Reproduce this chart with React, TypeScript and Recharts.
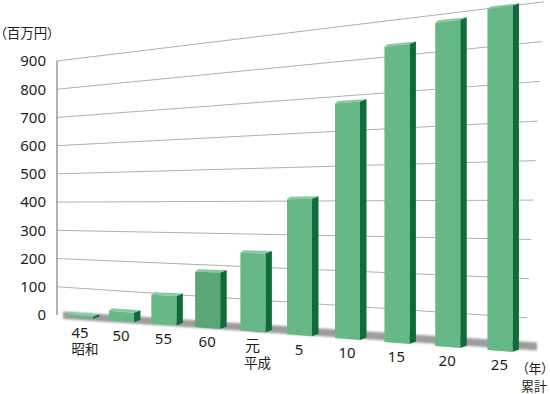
import React from "react";
import { BarChart, Bar, XAxis, YAxis, CartesianGrid } from "recharts";

// 年度ごとの累計額（百万円）
const categories = ["45", "50", "55", "60", "元", "5", "10", "15", "20", "25"];
const eraLabels = ["昭和", "", "", "", "平成", "", "", "", "", ""];
const amounts = [8, 32, 95, 176, 239, 402, 675, 822, 871, 890];
const yTicks = [0, 100, 200, 300, 400, 500, 600, 700, 800, 900];

const data = categories.map((c, i) => ({ name: c, value: amounts[i] }));

const W = 550;
const H = 394;
const PLOT_LEFT = 57;
const PLOT_RIGHT = 537;
const PLOT_TOP = 61;
const PLOT_BOTTOM = 315;
const PLOT_W = PLOT_RIGHT - PLOT_LEFT;
const BAND = PLOT_W / categories.length;
const DARK_INDEX = 3;

const FONT = "'Noto Sans', 'Noto Sans CJK JP', sans-serif";
const TEXT = "#231f20";

// perspective helpers: flat chart coords -> slanted 3D-ish screen coords
const depthT = (sx: number) => (sx - PLOT_LEFT) / PLOT_W;
const growth = (sx: number) => 1 + 0.399 * depthT(sx);
const floorY = (sx: number) => 318 + 0.0786 * (sx - 80);
const wallY = (sx: number) => PLOT_BOTTOM + 43 * depthT(sx);
const warpX = (fx: number) => {
  const i = (fx - PLOT_LEFT - BAND / 2) / BAND;
  return 80 + 41 * i + 0.7 * i * (i - 1);
};

const Box3D = (props: any) => {
  const { x, width, height, index } = props;
  const c = warpX(x + width / 2);
  const x1 = c - width / 2;
  const x2 = c + width / 2;
  const b1 = floorY(x1);
  const b2 = floorY(x2);
  const t1 = b1 - height * growth(x1);
  const t2 = b2 - height * growth(x2);
  const dx = 6.5;
  const dy = -2.5;
  const front = index === DARK_INDEX ? "#5aa676" : "#67b887";
  return (
    <g>
      <polygon
        points={`${x2},${t2} ${x2 + dx},${t2 + dy} ${x2 + dx},${b2 + dy} ${x2},${b2}`}
        fill="#106b3b"
      />
      <polygon
        points={`${x1},${t1} ${x2},${t2} ${x2 + dx},${t2 + dy} ${x1 + 3},${t1 - 2.5}`}
        fill="#86c9a2"
      />
      <polygon
        points={`${x1},${b1} ${x1},${t1} ${x2},${t2} ${x2},${b2}`}
        fill={front}
      />
    </g>
  );
};

const gridLine = (props: any) => {
  const { x1, y1, index } = props;
  const h = PLOT_BOTTOM - y1;
  if (h < 1) {
    // floor shadow along the base
    const xa = x1 + 6;
    const xb = PLOT_RIGHT;
    const top = (sx: number) => floorY(sx) - 5 - 6.5 * depthT(sx);
    const bot = (sx: number) => floorY(sx) + 2.5 - 6 * depthT(sx);
    return (
      <g key={`grid-${index}`}>
        <defs>
          <filter id="floorBlur" x="-5%" y="-50%" width="110%" height="200%">
            <feGaussianBlur stdDeviation="1.2" />
          </filter>
        </defs>
        <polygon
          points={`${xa},${top(xa)} ${xb},${top(xb)} ${xb},${bot(xb)} ${xa},${bot(xa)}`}
          fill="#9d9d9d"
          filter="url(#floorBlur)"
        />
      </g>
    );
  }
  const xEnd = 525 + 0.0744 * h;
  const yEnd = wallY(xEnd) - h * growth(xEnd);
  return (
    <line
      key={`grid-${index}`}
      x1={x1}
      y1={y1}
      x2={xEnd}
      y2={yEnd}
      stroke="#aab3ac"
      strokeWidth={1}
    />
  );
};

const CategoryTick = (props: any) => {
  const { x, payload } = props;
  const sx = warpX(x);
  const base = floorY(sx) + 19.5;
  const i = categories.indexOf(payload.value);
  return (
    <g>
      <text x={sx} y={base} textAnchor="middle" fontSize={15} fill={TEXT} fontFamily={FONT}>
        {payload.value}
      </text>
      {eraLabels[i] && (
        <text x={sx + 5} y={base + 16.5} textAnchor="middle" fontSize={13.5} fill={TEXT} fontFamily={FONT}>
          {eraLabels[i]}
        </text>
      )}
    </g>
  );
};

const labelStyle: React.CSSProperties = {
  position: "absolute",
  fontFamily: FONT,
  fontSize: 13,
  color: TEXT,
  lineHeight: "13px",
  whiteSpace: "nowrap",
  fontFeatureSettings: "'palt'",
};

export default function App() {
  return (
    <div style={{ position: "absolute", left: 0, top: 0, width: W, height: H, background: "#fff", fontFamily: FONT }}>
      <BarChart
        width={W}
        height={H}
        data={data}
        margin={{ top: PLOT_TOP, right: W - PLOT_RIGHT, bottom: H - PLOT_BOTTOM - 30, left: 0 }}
        barSize={25}
      >
        <CartesianGrid vertical={false} horizontal={gridLine} />
        <XAxis
          dataKey="name"
          height={30}
          interval={0}
          axisLine={false}
          tickLine={false}
          tick={<CategoryTick />}
        />
        <YAxis
          width={PLOT_LEFT}
          domain={[0, 900]}
          ticks={yTicks}
          interval={0}
          tickLine={false}
          tickMargin={5}
          axisLine={{ stroke: "#8e9f92", strokeWidth: 1.5 }}
          tick={{ fontSize: 15, fill: TEXT, fontFamily: FONT }}
        />
        <Bar dataKey="value" shape={<Box3D />} isAnimationActive={false} />
      </BarChart>
      <div style={{ ...labelStyle, left: 0, top: 26, fontSize: 13.5, lineHeight: "15px" }}>（百万円）</div>
      <div style={{ ...labelStyle, left: 522, top: 362 }}>（年）</div>
      <div style={{ ...labelStyle, left: 521, top: 380 }}>累計</div>
    </div>
  );
}
